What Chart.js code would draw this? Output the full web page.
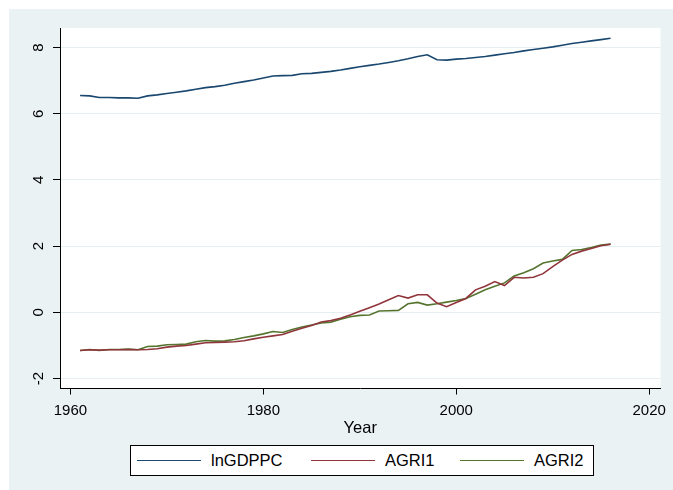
<!DOCTYPE html>
<html>
<head>
<meta charset="utf-8">
<script src="https://cdn.jsdelivr.net/npm/chart.js@4/dist/chart.umd.min.js"></script>
<style>
  html, body { margin: 0; padding: 0; background: #ffffff; }
  #wrap { position: relative; width: 673px; height: 490px; overflow: hidden; }
  #bg { position: absolute; left: 9px; top: 9px; width: 664px; height: 481px; background: #eaf2f3; }
  #c { position: absolute; left: 0; top: 0; }
  #legend { position: absolute; left: 130px; top: 445px; width: 462px; height: 29px;
            border: 1px solid #000; background: #ffffff;
            font-family: "Liberation Sans", Arial, sans-serif; font-size: 16.5px; color: #000; }
  .item { position: absolute; top: 0; height: 29px; display: flex; align-items: center; }
  .swatch { width: 64px; height: 0; border-top: 1.5px solid; margin-right: 10px; }
</style>
</head>
<body>
<div id="wrap">
  <div id="bg"></div>
  <canvas id="c" width="673" height="490"></canvas>
  <div id="legend"></div>
</div>
<script>
const years = [];
for (let y = 1961; y <= 2016; y++) years.push(y);

const lnGDPPC = [6.55, 6.54, 6.49, 6.49, 6.48, 6.48, 6.47, 6.54, 6.57, 6.61,
  6.65, 6.69, 6.74, 6.79, 6.82, 6.86, 6.92, 6.97, 7.02, 7.08,
  7.14, 7.15, 7.16, 7.21, 7.22, 7.25, 7.28, 7.32, 7.37, 7.42,
  7.46, 7.50, 7.55, 7.60, 7.66, 7.73, 7.78, 7.63, 7.62, 7.65,
  7.67, 7.70, 7.73, 7.77, 7.81, 7.85, 7.90, 7.94, 7.98, 8.02,
  8.07, 8.12, 8.16, 8.20, 8.24, 8.28];

const AGRI1 = [-1.15, -1.13, -1.14, -1.13, -1.13, -1.12, -1.13, -1.12, -1.10, -1.05,
  -1.02, -1.00, -0.96, -0.92, -0.91, -0.90, -0.89, -0.86, -0.80, -0.75,
  -0.71, -0.67, -0.57, -0.48, -0.40, -0.29, -0.25, -0.18, -0.08, 0.03,
  0.14, 0.25, 0.38, 0.51, 0.43, 0.53, 0.53, 0.28, 0.17, 0.30,
  0.42, 0.68, 0.79, 0.93, 0.81, 1.06, 1.04, 1.06, 1.17, 1.38,
  1.58, 1.75, 1.85, 1.93, 2.01, 2.06];

const AGRI2 = [-1.15, -1.12, -1.15, -1.12, -1.12, -1.11, -1.13, -1.03, -1.02, -0.98,
  -0.97, -0.96, -0.89, -0.85, -0.87, -0.86, -0.82, -0.76, -0.71, -0.65,
  -0.58, -0.61, -0.52, -0.44, -0.38, -0.32, -0.30, -0.21, -0.13, -0.09,
  -0.08, 0.04, 0.05, 0.06, 0.26, 0.30, 0.22, 0.26, 0.31, 0.36,
  0.42, 0.55, 0.68, 0.79, 0.89, 1.10, 1.20, 1.32, 1.49, 1.55,
  1.60, 1.87, 1.90, 1.96, 2.03, 2.06];

const seriesNames = ["lnGDPPC", "AGRI1", "AGRI2"];
const seriesColors = ["#1a476f", "#90353b", "#55752f"];
const xTicks = [1960, 1980, 2000, 2020];
const yTicks = [-2, 0, 2, 4, 6, 8];
const xTitle = "Year";

const seriesValues = [lnGDPPC, AGRI1, AGRI2];
const datasets = seriesNames.map((name, i) => ({
  label: name,
  data: years.map((yr, k) => ({ x: yr, y: seriesValues[i][k] })),
  borderColor: seriesColors[i],
  backgroundColor: seriesColors[i],
  borderWidth: 1.6,
  pointRadius: 0,
  tension: 0,
  fill: false
}));

const plotBg = {
  id: 'plotBg',
  beforeDraw(chart) {
    const { ctx, chartArea: a } = chart;
    ctx.save();
    ctx.fillStyle = '#ffffff';
    ctx.fillRect(a.left, a.top, a.right - a.left, a.bottom - a.top);
    ctx.restore();
  }
};

const font = { family: '"Liberation Sans", Arial, sans-serif', size: 15 };

new Chart(document.getElementById('c'), {
  type: 'line',
  data: { datasets },
  plugins: [plotBg],
  options: {
    responsive: false,
    animation: false,
    layout: { padding: { left: 0, top: 28, right: 8, bottom: 53 } },
    plugins: { legend: { display: false }, tooltip: { enabled: false } },
    scales: {
      x: {
        type: 'linear',
        min: 1958.92, max: 2021.17,
        afterBuildTicks: s => { s.ticks = xTicks.map(v => ({ value: v })); },
        grid: { drawOnChartArea: false, tickColor: '#000', tickLength: 6, tickWidth: 1 },
        border: { color: '#000', width: 1 },
        ticks: { color: '#000', font, padding: 7, maxRotation: 0, minRotation: 0,
                 callback: v => String(v) },
        title: { display: true, text: xTitle, color: '#000',
                 font: { family: font.family, size: 16.5, lineHeight: 1.0 },
                 padding: { top: -6, bottom: 0 } }
      },
      y: {
        type: 'linear',
        min: -2.30, max: 8.59,
        afterBuildTicks: s => { s.ticks = yTicks.map(v => ({ value: v })); },
        afterFit: s => { s.width = 60; },
        grid: { color: '#e6eef1', lineWidth: 1, tickColor: '#000', tickLength: 7, tickWidth: 1 },
        border: { color: '#000', width: 1 },
        ticks: { color: '#000', font, padding: 7, minRotation: 90, maxRotation: 90,
                 crossAlign: 'center', callback: v => String(v) }
      }
    }
  }
});

const legend = document.getElementById('legend');
const itemLefts = [6, 180, 329];
seriesNames.forEach((name, i) => {
  const it = document.createElement('div');
  it.className = 'item';
  it.style.left = itemLefts[i] + 'px';
  const sw = document.createElement('div');
  sw.className = 'swatch';
  sw.style.borderTopColor = seriesColors[i];
  const tx = document.createElement('span');
  tx.textContent = name;
  it.appendChild(sw); it.appendChild(tx);
  legend.appendChild(it);
});
</script>
</body>
</html>
